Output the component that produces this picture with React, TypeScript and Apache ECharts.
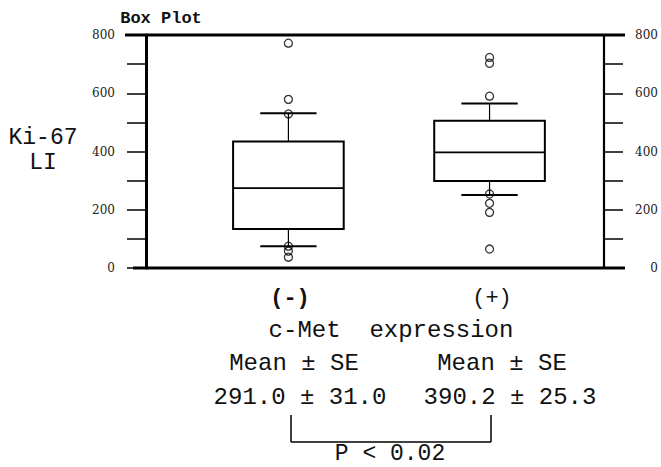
import React, { useEffect, useRef } from "react";
import * as echarts from "echarts";

const categories = ["(-)", "(+)"];
// [index, lower whisker, Q1, median, Q3, upper whisker]
const boxValues = [
  [0, 75, 134, 274, 434, 531],
  [1, 251, 299, 397, 506, 565],
];
const outliersNeg = [772, 579, 529, 75, 58, 37];
const outliersPos = [590, 723, 703, 254, 222, 191, 65];
const yLabelValues = [0, 200, 400, 600, 800];
const stats = [
  { head: "Mean ± SE", value: "291.0 ± 31.0" },
  { head: "Mean ± SE", value: "390.2 ± 25.3" },
];
const pText = "P < 0.02";

const MONO = "'Liberation Mono', 'DejaVu Sans Mono', monospace";
const SERIF = "'DejaVu Serif', 'Liberation Serif', serif";

export default function App() {
  const ref = useRef<HTMLDivElement>(null);
  useEffect(() => {
    if (!ref.current) return;
    const chart = echarts.init(ref.current, null, { renderer: "svg" });
    const BOX_W = 0.55;
    const CAP_W = 0.28;
    const axisCommon = {
      type: "value",
      min: 0,
      max: 800,
      interval: 100,
      axisTick: { show: true, inside: false, length: 19, lineStyle: { color: "#000", width: 1.5 } },
      splitLine: { show: false },
    };
    const scatterData = [
      ...outliersNeg.map((v) => [0, v]),
      ...outliersPos.map((v) => [1, v]),
    ];
    const line = (x1: number, y1: number, x2: number, y2: number, w: number) => ({
      type: "line",
      shape: { x1, y1, x2, y2 },
      style: { stroke: "#000", lineWidth: w },
      z: 10,
    });
    const txt = (text: string, x: number, y: number, size: number, font: string, weight = "normal") => ({
      type: "text",
      x,
      y,
      style: {
        text,
        fill: "#111",
        font: `${weight} ${size}px ${font}`,
        textAlign: "center",
        textVerticalAlign: "middle",
      },
      z: 10,
    });
    chart.setOption({
      animation: false,
      backgroundColor: "#fff",
      grid: { left: 146, right: 55, top: 35, bottom: 199 },
      xAxis: {
        type: "value",
        min: -0.708,
        max: 1.569,
        show: false,
      },
      yAxis: [
        {
          ...axisCommon,
          position: "left",
          axisLine: { show: true, onZero: false, lineStyle: { color: "#000", width: 3 } },
          axisLabel: {
            margin: 31,
            align: "right",
            color: "#222",
            fontFamily: SERIF,
            fontSize: 12,
            formatter: (v: number) => (yLabelValues.includes(v) ? String(v) : ""),
          },
        },
        {
          ...axisCommon,
          position: "right",
          axisLine: { show: true, onZero: false, lineStyle: { color: "#000", width: 2.2 } },
          axisLabel: {
            margin: 54,
            align: "right",
            color: "#222",
            fontFamily: SERIF,
            fontSize: 12,
            formatter: (v: number) => (yLabelValues.includes(v) ? String(v) : ""),
          },
        },
      ],
      series: [
        {
          type: "custom",
          data: boxValues,
          encode: { x: 0, y: [1, 2, 3, 4, 5] },
          renderItem: (params: any, api: any) => {
            const x = api.value(0);
            const lo = api.coord([x, api.value(1)]);
            const q1 = api.coord([x, api.value(2)]);
            const med = api.coord([x, api.value(3)]);
            const q3 = api.coord([x, api.value(4)]);
            const hi = api.coord([x, api.value(5)]);
            const half = api.size([BOX_W, 0])[0] / 2;
            const capHalf = api.size([CAP_W, 0])[0] / 2;
            const cx = lo[0];
            const st = (w: number) => ({ stroke: "#000", lineWidth: w, fill: "none" });
            return {
              type: "group",
              children: [
                { type: "line", shape: { x1: cx, y1: hi[1], x2: cx, y2: q3[1] }, style: st(1.2) },
                { type: "line", shape: { x1: cx, y1: q1[1], x2: cx, y2: lo[1] }, style: st(1.2) },
                { type: "line", shape: { x1: cx - capHalf, y1: hi[1], x2: cx + capHalf, y2: hi[1] }, style: st(2) },
                { type: "line", shape: { x1: cx - capHalf, y1: lo[1], x2: cx + capHalf, y2: lo[1] }, style: st(2) },
                {
                  type: "rect",
                  shape: { x: cx - half, y: q3[1], width: half * 2, height: q1[1] - q3[1] },
                  style: { stroke: "#000", lineWidth: 2, fill: "#fff" },
                },
                { type: "line", shape: { x1: cx - half, y1: med[1], x2: cx + half, y2: med[1] }, style: st(1.8) },
              ],
            };
          },
          z: 2,
        },
        {
          type: "scatter",
          data: scatterData,
          symbol: "circle",
          symbolSize: 8,
          itemStyle: { color: "rgba(0,0,0,0)", borderColor: "#000", borderWidth: 1.3 },
          z: 5,
        },
      ],
      graphic: [
        line(125, 35, 625, 35, 3),
        line(133, 268, 625, 268, 3),
        txt("Box Plot", 161, 18, 17, MONO, "bold"),
        txt("Ki-67", 43, 138, 23, MONO),
        txt("LI", 43, 163, 23, MONO),
        txt(categories[0], 290, 298, 22, MONO, "bold"),
        txt(categories[1], 492, 298, 22, MONO),
        txt("c-Met  expression", 391, 330, 24, MONO),
        txt(stats[0].head, 294, 363, 24, MONO),
        txt(stats[0].value, 300, 397, 24, MONO),
        txt(stats[1].head, 502, 363, 24, MONO),
        txt(stats[1].value, 510, 397, 24, MONO),
        line(291, 415, 291, 442, 1.5),
        line(491, 415, 491, 442, 1.5),
        line(291, 442, 491, 442, 1.5),
        txt(pText, 390, 454, 23, MONO),
      ],
    });
    return () => chart.dispose();
  }, []);
  return <div ref={ref} style={{ position: "fixed", left: 0, top: 0, width: 661, height: 467 }} />;
}
